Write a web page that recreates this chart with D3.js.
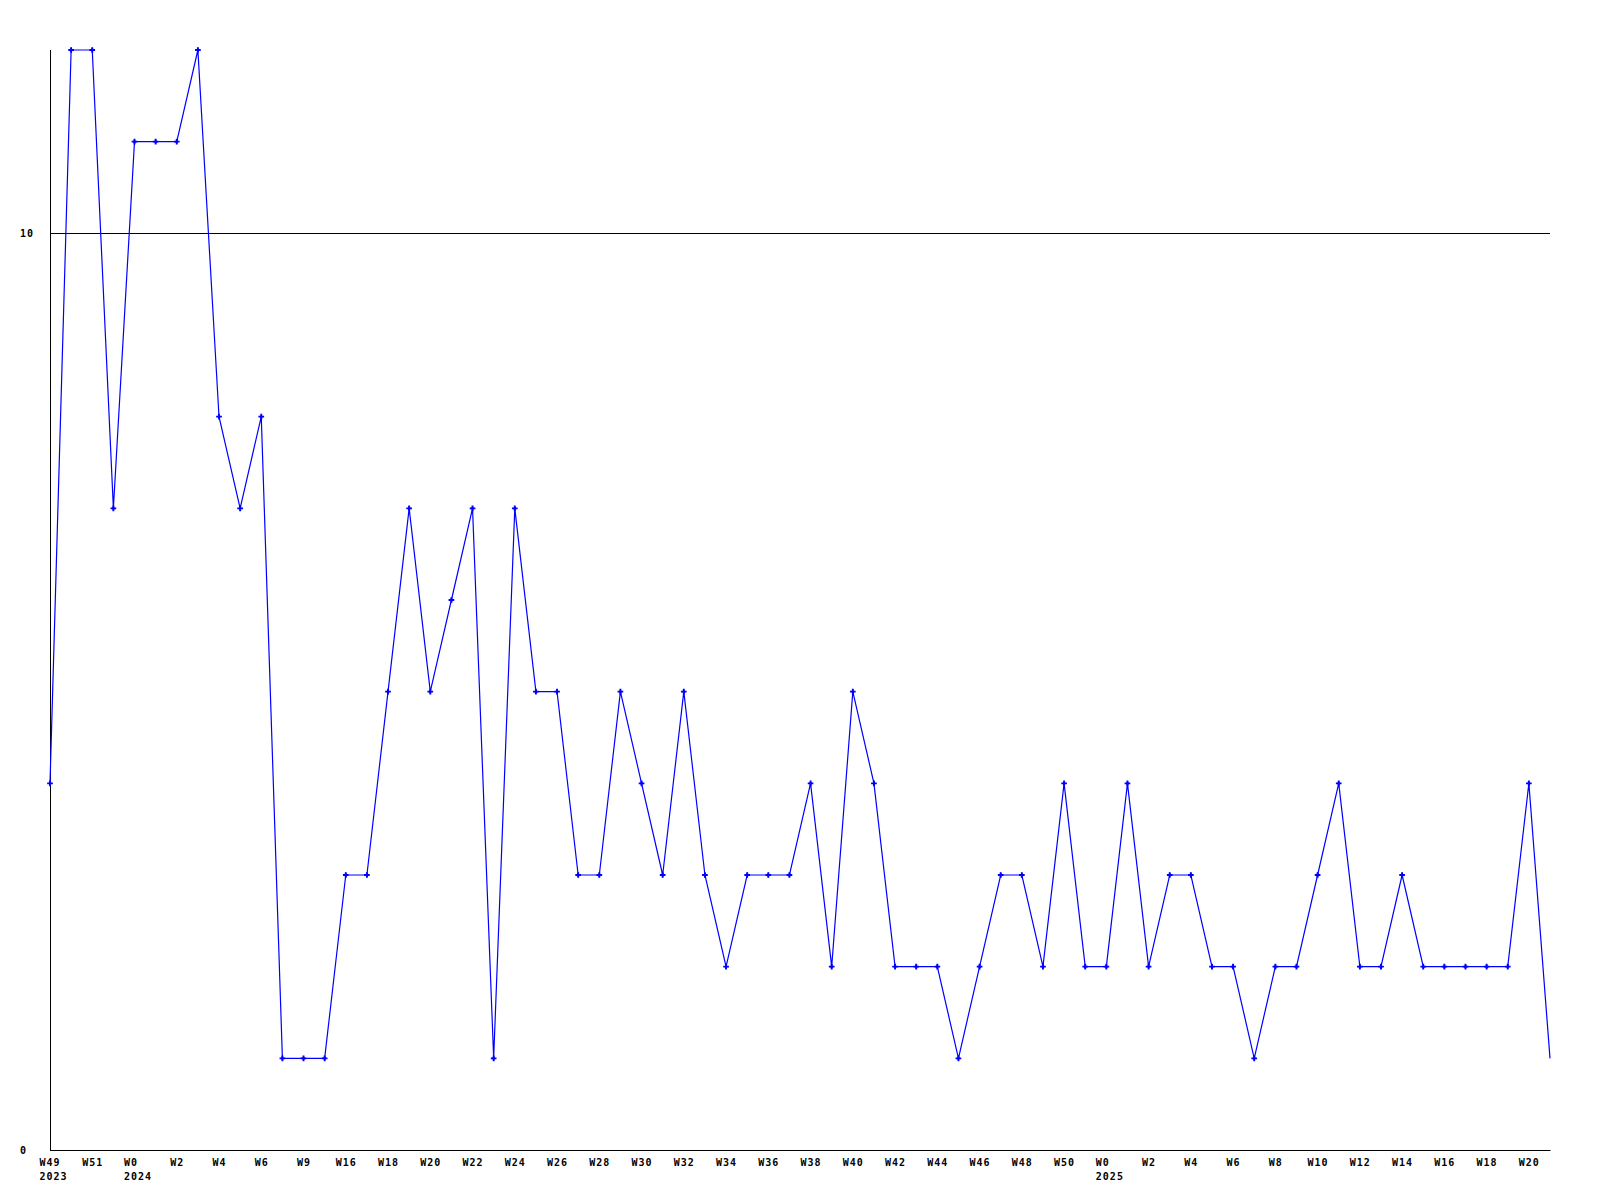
<!DOCTYPE html>
<html>
<head>
<meta charset="utf-8">
<script src="https://cdn.jsdelivr.net/npm/d3@7"></script>
<style>
  html, body { margin: 0; padding: 0; background: #fff; }
  text { font-family: "DejaVu Sans Mono", "Liberation Mono", monospace; font-weight: bold; font-size: 10px; letter-spacing: 1px; fill: #000; }
</style>
</head>
<body>
<svg id="chart" width="1600" height="1200"></svg>
<script>
const weeks = ["W49","W50","W51","W52","W0","W1","W2","W3","W4","W5","W6","W8","W9","W15",
  "W16","W17","W18","W19","W20","W21","W22","W23","W24","W25","W26","W27","W28","W29","W30","W31",
  "W32","W33","W34","W35","W36","W37","W38","W39","W40","W41","W42","W43","W44","W45","W46","W47",
  "W48","W49","W50","W51","W0","W1","W2","W3","W4","W5","W6","W7","W8","W9","W10","W11","W12",
  "W13","W14","W15","W16","W17","W18","W19","W20","W21"];
const years = {0: "2023", 4: "2024", 50: "2025"};
const values = [4,12,12,7,11,11,11,12,8,7,8,1,1,1,3,3,5,7,5,6,7,1,7,5,5,3,3,5,4,3,5,3,2,3,3,3,
  4,2,5,4,2,2,2,1,2,3,3,2,4,2,2,4,2,3,3,2,2,1,2,2,3,4,2,2,3,2,2,2,2,2,4,1];
const yTicks = [0, 10];
const yMax = 12;

(function () {
const svg = d3.select("#chart");
const pl = 50, pr = 1550, pt = 50, pb = 1150;

const x = d3.scaleLinear().domain([0, values.length - 1]).range([pl, pr]);
const y = d3.scaleLinear().domain([0, yMax]).range([pb, pt]);

svg.selectAll("line.grid").data(yTicks.filter(d => d !== 0)).enter().append("line")
  .attr("x1", pl).attr("x2", pr)
  .attr("y1", d => Math.round(y(d)) + 0.5).attr("y2", d => Math.round(y(d)) + 0.5)
  .attr("stroke", "#000").attr("stroke-width", 1);

svg.append("line").attr("x1", pl + 0.5).attr("x2", pl + 0.5).attr("y1", pt).attr("y2", pb + 0.5)
  .attr("stroke", "#000").attr("stroke-width", 1);
svg.append("line").attr("x1", pl).attr("x2", pr + 0.5).attr("y1", pb + 0.5).attr("y2", pb + 0.5)
  .attr("stroke", "#000").attr("stroke-width", 1);

svg.selectAll("text.ylab").data(yTicks).enter().append("text")
  .attr("x", 20).attr("y", d => y(d) + 4)
  .text(d => d);

const idx = d3.range(0, weeks.length, 2);
const xl = svg.selectAll("g.xlab").data(idx).enter().append("g");
xl.append("text")
  .attr("x", i => years[i] !== undefined ? x(i) - 10.5 : x(i) + 0.5)
  .attr("y", 1166)
  .attr("text-anchor", i => years[i] !== undefined ? "start" : "middle")
  .text(i => weeks[i]);
xl.filter(i => years[i] !== undefined).append("text")
  .attr("x", i => x(i) - 10.5)
  .attr("y", 1180)
  .attr("text-anchor", "start")
  .text(i => years[i]);

const line = d3.line().x((d, i) => x(i)).y(d => y(d));
svg.append("path").datum(values)
  .attr("d", line)
  .attr("fill", "none").attr("stroke", "#0000ff").attr("stroke-width", 1.2);

const cross = d3.symbol().type(d3.symbolCross).size(18);
const diamond = d3.symbol().type(d3.symbolDiamond).size(8);
const pts = svg.selectAll("g.pt").data(values.slice(0, values.length - 1)).enter().append("g")
  .attr("transform", (d, i) => `translate(${x(i)},${y(d)})`);
pts.append("path").attr("d", cross).attr("fill", "#0000ff");
pts.append("path").attr("d", diamond).attr("fill", "#0000ff");
})();
</script>
</body>
</html>
